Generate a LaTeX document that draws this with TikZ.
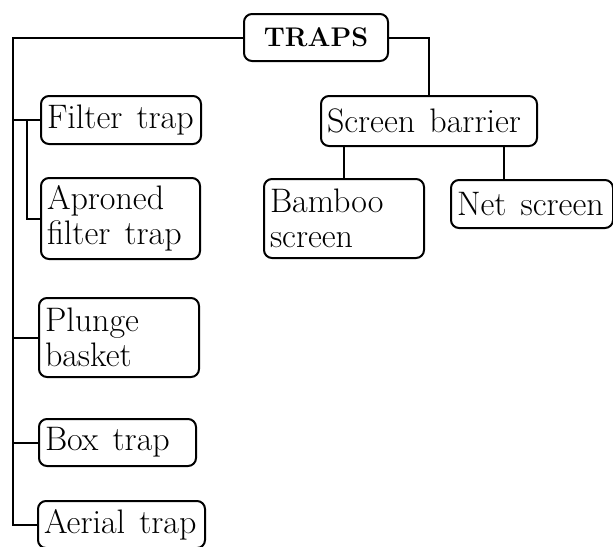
\documentclass[tikz,border=0pt]{standalone}

\newcommand\widespace{\spaceskip=0.42em\relax}
\tikzset{
  trapbox/.style={draw,line width=1pt,rounded corners=4pt,anchor=north west,
    inner xsep=3pt,inner ysep=0pt,align=left,
    font=\fontsize{17}{17.5}\selectfont,
    execute at begin node=\widespace},
  link/.style={line width=1pt}
}

\begin{document}
\begin{tikzpicture}[x=0.5pt,y=-0.5pt]
	\useasboundingbox (0,0) rectangle (613,546);
	% top of the tree
	\node[trapbox,align=center,text width=66pt,minimum height=23.5pt,font=\fontsize{13.5}{16}\selectfont\bfseries] (traps) at (243,13) {TRAPS};
	% screen branch
	\node[trapbox,text width=102pt,minimum height=25pt] (screen) at (320,95) {Screen~barrier};
	\node[trapbox,text width=74pt,minimum height=39.5pt] (bamboo) at (263,178) {Bamboo\\screen};
	\node[trapbox,text width=75pt,minimum height=24pt] (net) at (450,179) {Net~screen};
	% trap column
	\node[trapbox,text width=74pt,minimum height=24pt] (filter) at (40,95) {Filter~trap};
	\node[trapbox,text width=73.5pt,minimum height=40.5pt] (apron) at (40,177) {Aproned\\filter~trap};
	\node[trapbox,text width=74pt,minimum height=39.5pt] (plunge) at (38,297) {Plunge\\basket};
	\node[trapbox,text width=72.5pt,minimum height=23.5pt] (boxtrap) at (38,418) {Box~trap};
	\node[trapbox,text width=77.5pt,minimum height=23.5pt] (aerial) at (37,500) {Aerial~trap};
	% connectors
	\coordinate (spine) at (13,0);
	\coordinate (fork) at (27,0);
	\coordinate (netdrop) at ([xshift=-14pt]net.north);
	\draw[link] (traps.west) -- (traps.west -| spine) |- (aerial.west);
	\draw[link] (filter.west) -- (filter.west -| spine);
	\draw[link] (apron.west) -- (apron.west -| fork) -- (filter.west -| fork);
	\draw[link] (plunge.west) -- (plunge.west -| spine);
	\draw[link] (boxtrap.west) -- (boxtrap.west -| spine);
	\draw[link] (traps.east) -| (screen.north);
	\draw[link] (bamboo.north) -- (bamboo.north |- screen.south);
	\draw[link] (netdrop) -- (netdrop |- screen.south);
\end{tikzpicture}
\end{document}
